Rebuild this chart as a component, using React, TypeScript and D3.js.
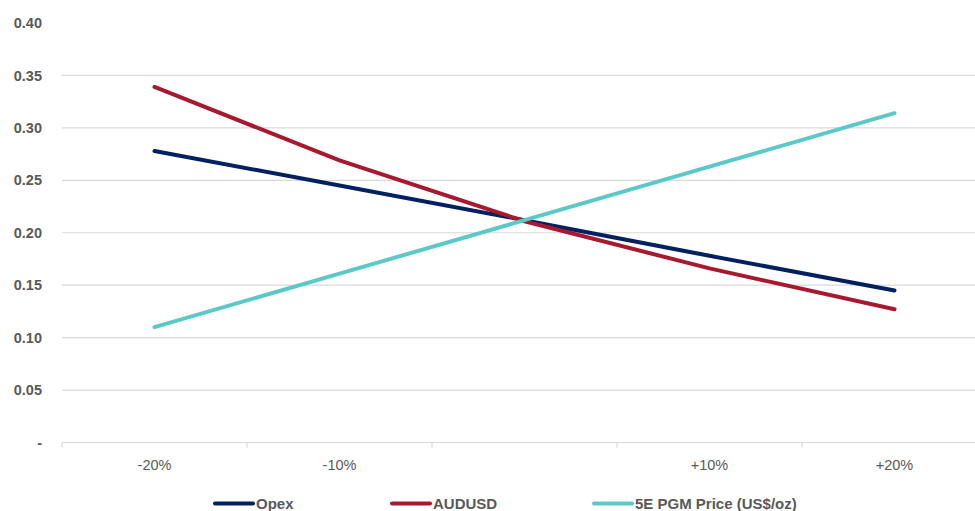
import React from "react";
import * as d3 from "d3";

const categories = ["-20%", "-10%", "0%", "+10%", "+20%"];
const categoryLabels = ["-20%", "-10%", "", "+10%", "+20%"];
const opex = [0.278, 0.245, 0.212, 0.178, 0.145];
const audusd = [0.339, 0.269, 0.211, 0.166, 0.127];
const pgm = [0.11, 0.161, 0.212, 0.263, 0.314];
const yTicks = [0, 0.05, 0.1, 0.15, 0.2, 0.25, 0.3, 0.35, 0.4];
const seriesNames = ["Opex", "AUDUSD", "5E PGM Price (US$/oz)"];

const W = 975;
const H = 511;
const colors = ["#002060", "#A6192E", "#5BC9C8"];
const FONT = "'Source Sans Pro', 'Liberation Sans', 'Noto Sans', sans-serif";

export default function App() {
  const x = d3.scaleBand<string>().domain(categories).range([62, 987]);
  const y = d3.scaleLinear().domain([0, 0.4]).range([442.5, 23]);
  const series = [opex, audusd, pgm];
  const line = d3
    .line<number>()
    .x((_, i) => (x(categories[i]) as number) + x.bandwidth() / 2)
    .y((d) => y(d));
  const ticksX = categories.map((c) => x(c) as number).concat([x.range()[1]]);
  const legendX = [215, 392, 594];
  const legendY = 503.5;

  return (
    <svg
      width={W}
      height={H}
      style={{ position: "absolute", left: 0, top: 0, background: "#fff" }}
      fontFamily={FONT}
    >
      {yTicks.slice(1, -1).map((t) => (
        <line key={t} x1={62} x2={987} y1={y(t)} y2={y(t)} stroke="#d9d9d9" strokeWidth={1.2} />
      ))}
      <line x1={62} x2={987} y1={y(0)} y2={y(0)} stroke="#d9d9d9" strokeWidth={1.2} />
      {ticksX.map((tx, i) => (
        <line key={i} x1={tx} x2={tx} y1={y(0)} y2={y(0) + 5} stroke="#d9d9d9" strokeWidth={1.2} />
      ))}
      {yTicks.map((t) => (
        <text
          key={t}
          x={42}
          y={y(t)}
          dy="0.35em"
          textAnchor="end"
          fontSize={14.5}
          fontWeight="bold"
          fill="#595959"
        >
          {t === 0 ? "-" : d3.format(".2f")(t)}
        </text>
      ))}
      {categories.map((c, i) => (
        <text
          key={c}
          x={(x(c) as number) + x.bandwidth() / 2}
          y={465}
          dy="0.35em"
          textAnchor="middle"
          fontSize={14.5}
          fill="#595959"
        >
          {categoryLabels[i]}
        </text>
      ))}
      {series.map((s, i) => (
        <path
          key={i}
          d={line(s) as string}
          fill="none"
          stroke={colors[i]}
          strokeWidth={4}
          strokeLinecap="round"
          strokeLinejoin="round"
        />
      ))}
      {seriesNames.map((n, i) => (
        <g key={n}>
          <line
            x1={legendX[i]}
            x2={legendX[i] + 38}
            y1={legendY}
            y2={legendY}
            stroke={colors[i]}
            strokeWidth={4}
            strokeLinecap="round"
          />
          <text
            x={legendX[i] + 41}
            y={legendY}
            dy="0.35em"
            fontSize={15}
            fontWeight="bold"
            fill="#595959"
          >
            {n}
          </text>
        </g>
      ))}
    </svg>
  );
}
